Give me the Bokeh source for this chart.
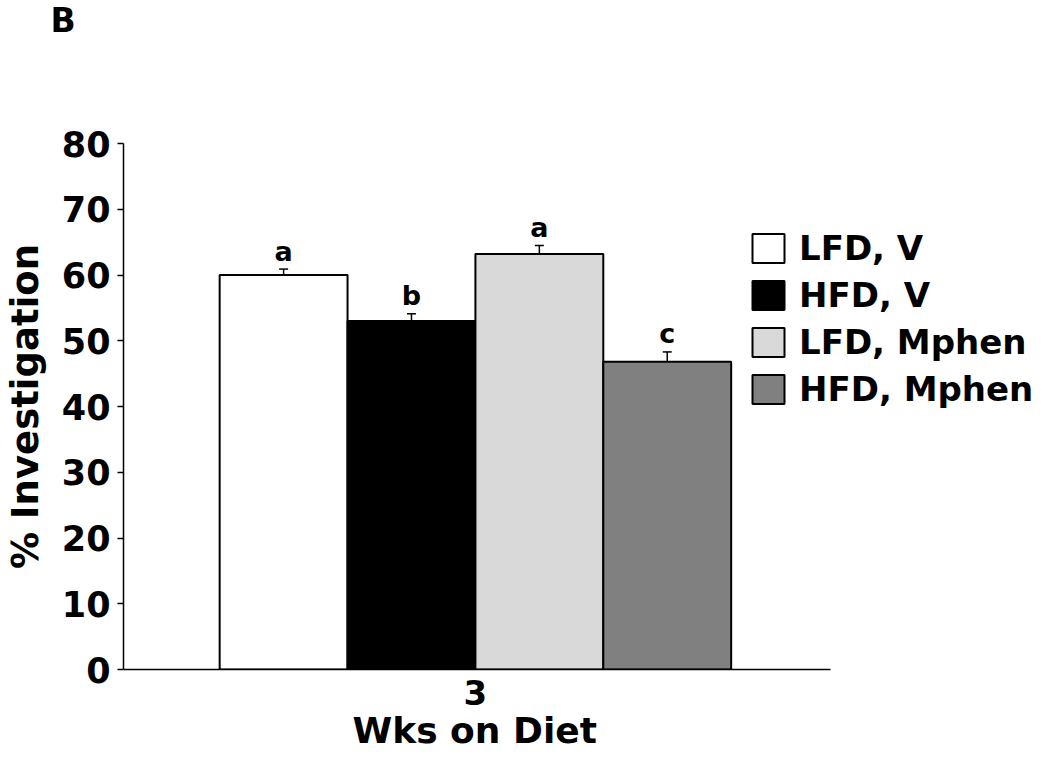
from bokeh.plotting import figure
from bokeh.models import Range1d, Whisker, ColumnDataSource, Legend, LegendItem, FixedTicker, Title
from bokeh.core.properties import value
from bokeh.embed import file_html
from bokeh.resources import INLINE

weeks = ["3"]
x_title = "Wks on Diet"
groups = ["LFD, V", "HFD, V", "LFD, Mphen", "HFD, Mphen"]
means = [60.0, 53.0, 63.2, 46.8]
errors = [0.9, 1.1, 1.3, 1.5]
letters = ["a", "b", "a", "c"]
colors = ["#ffffff", "#000000", "#d9d9d9", "#808080"]

FONT = "DejaVu Sans"
# group centre at 0, each bar one unit wide
positions = [-1.5, -0.5, 0.5, 1.5]

p = figure(width=1034, height=750, output_backend="svg", toolbar_location=None,
           x_range=Range1d(-2.752, 4.372),
           y_range=Range1d(0, 80),
           min_border_left=0, min_border_right=0, min_border_top=0, min_border_bottom=0)

p.grid.visible = False
p.outline_line_color = None
p.background_fill_color = "white"
p.border_fill_color = "white"

items = []
for i, g in enumerate(groups):
    src = ColumnDataSource(dict(x=[positions[i]], top=[means[i]], upper=[means[i] + errors[i]],
                                lower=[means[i] - errors[i]], lab=[letters[i]]))
    r = p.vbar(x="x", top="top", bottom=0, width=1.0,
               source=src, fill_color=colors[i], line_color="black", line_width=2)
    items.append(LegendItem(label=g, renderers=[r]))
    w = Whisker(base="x", upper="upper", lower="lower",
                source=src, line_color="black", line_width=1.5)
    w.upper_head.size = 9
    w.lower_head.size = 9
    w.upper_head.line_width = 1.5
    w.lower_head.line_width = 1.5
    p.add_layout(w)
    p.text(x="x", y="upper", text="lab", source=src,
           text_font=value(FONT), text_font_style="bold", text_font_size="27px",
           text_align="center", text_baseline="alphabetic", y_offset=-18, text_color="black")

legend = Legend(items=items, location=(625, 260), padding=0, margin=0, spacing=7,
                glyph_width=40, glyph_height=36, label_standoff=11,
                label_text_font=FONT, label_text_font_style="bold", label_text_font_size="34px",
                label_text_color="black",
                border_line_color=None, background_fill_alpha=0)
p.add_layout(legend, "center")

# panel letter at the very top, spacer title between it and the frame
p.title.text = "B"
p.title.text_font = FONT
p.title.text_font_style = "bold"
p.title.text_font_size = "33px"
p.title.text_color = "black"
p.title.align = "left"
p.title.offset = -73
p.title.standoff = 0
p.title.vertical_align = "top"
p.add_layout(Title(text=" ", text_font_size="33px", standoff=63), "above")

p.yaxis.ticker = FixedTicker(ticks=list(range(0, 81, 10)))
p.yaxis.axis_label = "% Investigation"
for ax in (p.xaxis[0], p.yaxis[0]):
    ax.axis_line_color = "black"
    ax.axis_line_width = 1.5
    ax.major_label_text_font = FONT
    ax.major_label_text_font_style = "bold"
    ax.major_label_text_color = "black"
    ax.axis_label_text_font = FONT
    ax.axis_label_text_font_style = "bold"
    ax.axis_label_text_color = "black"
    ax.minor_tick_line_color = None
p.yaxis.major_label_text_font_size = "35px"
p.yaxis.axis_label_text_font_size = "37px"
p.yaxis.major_tick_out = 6
p.yaxis.major_tick_in = 0
p.yaxis.major_tick_line_width = 1.5
p.yaxis.major_label_standoff = 7
p.yaxis.axis_label_standoff = 12

p.xaxis.ticker = FixedTicker(ticks=[0])
p.xaxis.major_label_overrides = {0: weeks[0]}
p.xaxis.bounds = (-2.752, 2.775)
p.xaxis.major_tick_line_color = None
p.xaxis.major_tick_out = 0
p.xaxis.major_tick_in = 0
p.xaxis.major_label_text_font_size = "34px"
p.xaxis.major_label_standoff = 10

p.add_layout(Title(text=x_title, text_font=FONT, text_font_style="bold", text_font_size="36px",
                   text_color="black", align="left", offset=229, standoff=0), "below")

open("out.html", "w").write(file_html(p, INLINE))
